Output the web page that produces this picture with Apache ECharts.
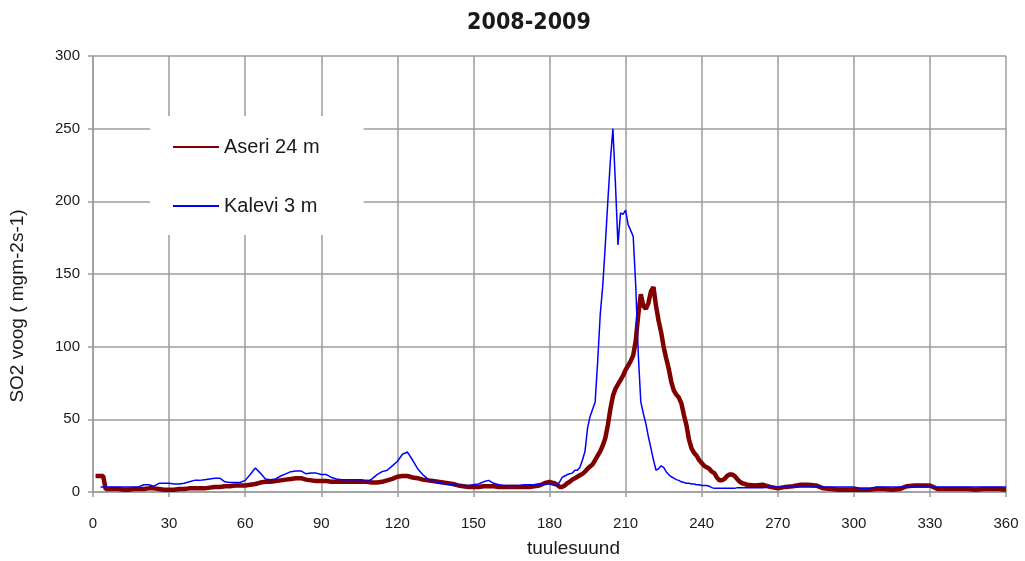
<!DOCTYPE html>
<html>
<head>
<meta charset="utf-8">
<title>2008-2009</title>
<script src="https://cdn.jsdelivr.net/npm/echarts@6/dist/echarts.min.js"></script>
<style>
  html, body { margin: 0; padding: 0; background: #ffffff; }
  #chart { width: 1025px; height: 561px; }
</style>
</head>
<body>
<div id="chart"></div>
<script>
// Wind direction (degrees) at which both stations are sampled
const windDir = [
  1, 2, 3, 4, 5,
  6, 8, 10, 12, 14, 16, 18, 20, 22, 24,
  26, 28, 30, 32, 34, 36, 38, 40, 42, 44,
  46, 48, 50, 52, 54, 56, 58, 60, 62, 64,
  66, 68, 70, 72, 74, 76, 78, 80, 82, 84,
  86, 88, 90, 92, 94, 96, 98, 100, 102, 104,
  106, 108, 110, 112, 114, 116, 118, 120, 122, 124,
  126, 128, 130, 132, 134, 136, 138, 140, 142, 144,
  146, 148, 150, 152, 154, 156, 158, 160, 162, 164,
  166, 168, 170, 172, 174, 176, 178, 180,
  181, 182, 183, 184, 185, 186, 187, 188, 189, 190,
  191, 192, 193, 194, 195, 196, 197, 198, 199, 200,
  201, 202, 203, 204, 205, 206, 207, 208, 209, 210,
  211, 212, 213, 214, 215, 216, 217, 218, 219, 220,
  221, 222, 223, 224, 225, 226, 227, 228, 229, 230,
  231, 232, 233, 234, 235, 236, 237, 238, 239, 240,
  241, 242, 243, 244, 245, 246, 247, 248, 249, 250,
  251, 252, 253, 254, 255, 256,
  258, 261, 264, 267, 270, 273, 276, 279, 282, 285,
  288, 291, 294, 297, 300, 303, 306, 309, 312, 315,
  318, 321, 324, 327, 330, 333, 336, 339, 342, 345,
  348, 351, 354, 357, 360
];

// SO2 flux, Aseri 24 m
const aseri = [
  11, 11, 11, 11, 2,
  2, 2, 2, 1.5, 1.5, 2, 2, 2, 2.5, 2.5,
  2, 1.5, 1.5, 1.5, 2, 2, 2.5, 2.5, 2.5, 2.5,
  3, 3.5, 3.5, 4, 4, 4.5, 4.5, 4.5, 5, 5.5,
  6.5, 7, 7, 7.5, 8, 8.5, 9, 9.5, 9.5, 8.5,
  8, 7.5, 7.5, 7.5, 7, 7, 7, 7, 7, 7,
  7, 7, 6.5, 6.5, 7, 8, 9, 10.5, 11, 11,
  10, 9.5, 8.5, 8, 7.5, 7, 6.5, 6, 5.5, 4.5,
  4, 3.5, 3.5, 3.5, 4, 4, 4, 3.5, 3.5, 3.5,
  3.5, 3.5, 3.5, 3.5, 4, 4.5, 6, 7,
  6.5, 6, 5, 3.5, 3.5, 4.5, 6, 7, 8.5, 9.5,
  10.5, 11.5, 12.5, 14, 16, 17.5, 19, 22, 25, 28,
  32, 37, 46, 57, 66, 71, 74, 77, 80, 84,
  87, 90, 94, 104, 122, 136, 128, 126, 130, 138,
  141, 128, 118, 110, 100, 92, 85, 76, 70, 67,
  65, 61, 53, 46, 36, 30, 27, 25, 22, 20,
  18, 17, 16, 14, 13, 10, 8, 8, 9, 11,
  12, 12, 11, 9, 7, 6,
  5, 4.5, 5, 3.5, 2.5, 3.5, 4, 5, 5, 4.5,
  2.5, 2, 1.5, 1.5, 1.5, 1.5, 1.5, 2, 2, 1.5,
  2, 4, 4.5, 4.5, 4.5, 2, 2, 2, 2, 2,
  1.5, 2, 2, 2, 1.5
];

// SO2 flux, Kalevi 3 m
const kalevi = [
  null, null, 3.5, 3.5, 3.5,
  3.5, 3.5, 3.5, 3.5, 3.5, 3.5, 3.5, 5, 5, 4,
  6, 6, 6, 5.5, 5.5, 6, 7, 8, 8, 8.5,
  9, 9.5, 9.5, 7, 6.5, 6.5, 6.5, 8, 12, 16.5,
  13, 9, 8.5, 9, 11, 12.5, 14, 14.5, 14.5, 12.5,
  13, 13, 12, 12, 10, 9, 8.5, 8.5, 8.5, 8.5,
  8.5, 7, 9, 12, 14, 15, 18, 21, 26, 27.5,
  22, 16, 12, 9, 7.5, 6.5, 6, 5.5, 5, 4.5,
  4.5, 4.5, 5, 5.5, 7, 8, 6, 5, 4.5, 4.5,
  4.5, 4.5, 5, 5, 5, 5.5, 5.5, 5.5,
  5, 4.5, 4.5, 7, 10, 11, 12, 12.5, 13, 15,
  15, 17, 22, 28, 44, 52, 57, 62, 90, 122,
  142, 170, 200, 228, 250, 212, 170, 192, 191, 194,
  184, 180, 176, 142, 95, 62, 54, 47, 38, 30,
  22, 15, 16, 18, 17, 14, 12, 10.5, 9.5, 8.5,
  8, 7, 6.5, 6, 6, 5.5, 5.5, 5, 5, 4.5,
  4.5, 4.5, 4, 3, 2.5, 2.5, 2.5, 2.5, 2.5, 2.5,
  2.5, 2.5, 2.5, 3, 3, 3,
  3, 3, 3, 3.5, 3.5, 3.5, 3.5, 3.5, 3.5, 3.5,
  3.5, 3.5, 3.5, 3.5, 3.5, 2.5, 2.5, 3.5, 3.5, 3.5,
  3.5, 3.5, 3.5, 3.5, 3.5, 3.5, 3.5, 3.5, 3.5, 3.5,
  3.5, 3.5, 3.5, 3.5, 3.5
];

const seriesNames = ['Aseri 24 m', 'Kalevi 3 m'];
const titleText = '2008-2009';
const xName = 'tuulesuund';
const yName = 'SO2 voog ( mgm-2s-1)';

const pairs = vals => windDir.map((d, i) => [d, vals[i]]);

const textColor = '#1a1a1a';
const gridColor = '#9c9c9c';
const labelFont = "'Liberation Sans', Arial, sans-serif";
const nameFont = "19px 'Liberation Sans', Arial, sans-serif";

const chart = echarts.init(document.getElementById('chart'), null, { renderer: 'canvas' });

chart.setOption({
  animation: false,
  backgroundColor: '#ffffff',
  title: {
    text: titleText,
    left: 524,
    top: 7,
    textAlign: 'center',
    textStyle: {
      fontFamily: "'Liberation Sans Narrow', 'DejaVu Sans Condensed', sans-serif",
      fontWeight: 'bold',
      fontSize: 23,
      color: textColor
    }
  },
  grid: { left: 93, right: 19, top: 56, bottom: 69, containLabel: false },
  legend: {
    data: seriesNames,
    orient: 'vertical',
    left: 150,
    top: 116,
    itemWidth: 46,
    itemHeight: 16,
    itemGap: 39,
    padding: [21, 44, 19, 22],
    backgroundColor: '#ffffff',
    // line-only legend marks
    itemStyle: { color: 'rgba(0,0,0,0)', borderWidth: 0, borderColor: 'rgba(0,0,0,0)' },
    textStyle: { fontFamily: labelFont, fontSize: 20, lineHeight: 20, color: textColor }
  },
  xAxis: {
    type: 'value',
    min: 0,
    max: 360,
    interval: 30,
    axisLine: { show: true, lineStyle: { color: gridColor, width: 1.5 } },
    axisTick: { show: true, length: 5, lineStyle: { color: gridColor, width: 1.5 } },
    axisLabel: { margin: 24, fontFamily: labelFont, fontSize: 15, color: textColor },
    splitLine: { show: true, lineStyle: { color: gridColor, width: 1.5 } }
  },
  yAxis: {
    type: 'value',
    min: 0,
    max: 300,
    interval: 50,
    axisLine: { show: true, lineStyle: { color: gridColor, width: 1.5 } },
    axisTick: { show: true, length: 5, lineStyle: { color: gridColor, width: 1.5 } },
    axisLabel: { margin: 13, fontFamily: labelFont, fontSize: 15, color: textColor },
    splitLine: { show: true, lineStyle: { color: gridColor, width: 1.5 } }
  },
  graphic: [
    {
      type: 'text',
      left: 527,
      top: 539,
      style: { text: xName, font: nameFont, fill: textColor }
    },
    {
      type: 'text',
      x: 8,
      y: 306,
      rotation: Math.PI / 2,
      style: {
        text: yName,
        font: nameFont,
        fill: textColor,
        align: 'center',
        verticalAlign: 'top'
      }
    }
  ],
  series: [
    {
      name: seriesNames[0],
      type: 'line',
      data: pairs(aseri),
      symbol: 'none',
      lineStyle: { color: '#800000', width: 4.5 },
      itemStyle: { color: '#800000' },
      z: 2
    },
    {
      name: seriesNames[1],
      type: 'line',
      data: pairs(kalevi),
      symbol: 'none',
      lineStyle: { color: '#0000ff', width: 1.5 },
      itemStyle: { color: '#0000ff' },
      z: 3
    }
  ]
});
</script>
</body>
</html>
